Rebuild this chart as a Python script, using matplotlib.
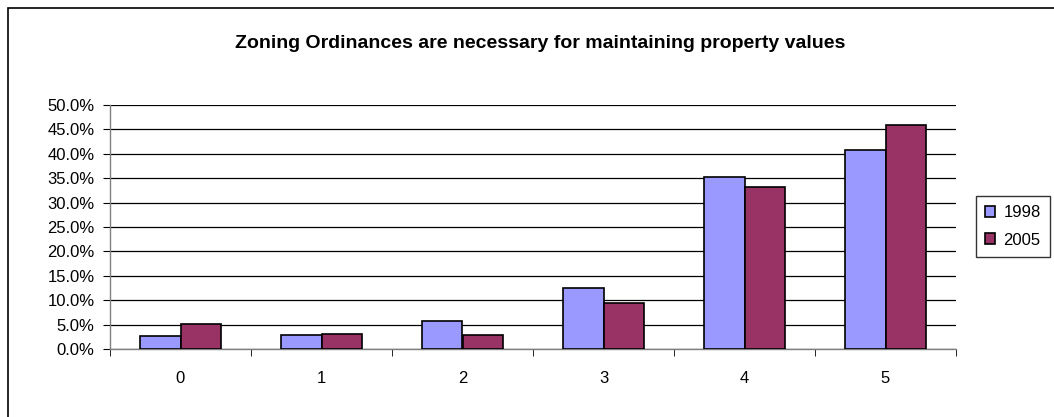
import matplotlib
matplotlib.use("Agg")
import matplotlib.pyplot as plt
import numpy as np
from matplotlib.patches import Rectangle

categories = ["0", "1", "2", "3", "4", "5"]
series_names = ["1998", "2005"]
values_1998 = [2.6, 2.9, 5.7, 12.6, 35.3, 40.8]
values_2005 = [5.2, 3.1, 2.8, 9.5, 33.2, 46.0]
ytick_vals = [0, 5, 10, 15, 20, 25, 30, 35, 40, 45, 50]
ytick_labels = [f"{v:.1f}%" for v in ytick_vals]
colors = ["#9999FF", "#993366"]

plt.rcParams['font.family'] = ['Liberation Sans', 'DejaVu Sans']

W, H = 1054, 417
fig = plt.figure(figsize=(W / 100, H / 100), dpi=100)

# outer chart border (left/top visible)
fig.patches.append(Rectangle((8 / W, -0.1), 1.2, (417 - 8) / H + 0.1,
                             transform=fig.transFigure, fill=False,
                             edgecolor="black", linewidth=1.2))

left, right, top, bottom = 110, 956, 105, 349
ax = fig.add_axes([left / W, 1 - bottom / H, (right - left) / W, (bottom - top) / H])

x = np.arange(len(categories))
bw = 0.285
ax.bar(x - bw / 2, values_1998, bw, color=colors[0], edgecolor="black",
       linewidth=1.2, label=series_names[0], zorder=3)
ax.bar(x + bw / 2, values_2005, bw, color=colors[1], edgecolor="black",
       linewidth=1.2, label=series_names[1], zorder=3)

fs = 12
ax.set_xlim(-0.5, len(categories) - 0.5)
ax.set_ylim(0, 50)
ax.set_yticks(ytick_vals)
ax.set_yticklabels(ytick_labels, fontsize=fs)
ax.set_xticks(x)
ax.set_xticklabels(categories, fontsize=fs)
ax.set_xticks(np.arange(-0.5, len(categories), 1.0), minor=True)
ax.tick_params(axis="x", which="major", length=0, pad=16)
ax.tick_params(axis="x", which="minor", length=5, direction="out", color="black")
ax.tick_params(axis="y", length=5, direction="out", color="black", pad=6)
ax.yaxis.grid(True, color="black", linewidth=0.9, zorder=0)
ax.set_axisbelow(True)
for s in ["top", "right"]:
    ax.spines[s].set_visible(False)
for s in ["left", "bottom"]:
    ax.spines[s].set_color("#808080")
    ax.spines[s].set_linewidth(1.0)

fig.text(540 / W, 1 - 44 / H, "Zoning Ordinances are necessary for maintaining property values",
         ha="center", va="center", fontsize=14, fontweight="bold")

leg = fig.legend(loc="upper left", bbox_to_anchor=(976 / W, 1 - 196 / H),
                 frameon=True, fontsize=fs, handlelength=0.6, handleheight=0.6,
                 handletextpad=0.5, borderpad=0.55, labelspacing=0.75,
                 fancybox=False, borderaxespad=0)
leg.get_frame().set_edgecolor("black")
leg.get_frame().set_linewidth(1.0)

fig.savefig("out.png", dpi=100)
